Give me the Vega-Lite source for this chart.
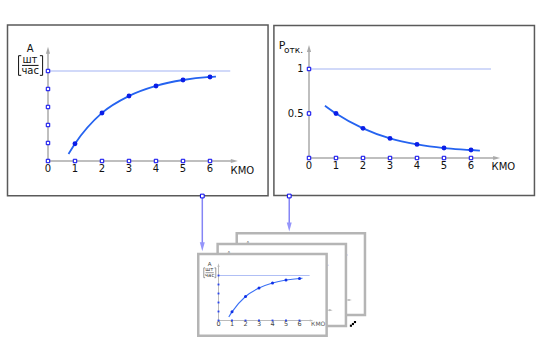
{
  "$schema": "https://vega.github.io/schema/vega-lite/v6.json",
  "padding": 0,
  "background": "white",
  "width": 550,
  "height": 355,
  "autosize": {"type": "fit", "contains": "padding"},
  "config": {"view": {"stroke": null}, "font": "DejaVu Sans", "text": {"font": "DejaVu Sans"}},
  "datasets": {
    "A": [{"x":1,"y":0.96},{"x":2,"y":2.67},{"x":3,"y":3.61},{"x":4,"y":4.17},{"x":5,"y":4.5},{"x":6,"y":4.67}],
    "Acurve": [{"x":0.76,"y":0.39},{"x":1,"y":0.96},{"x":2,"y":2.67},{"x":3,"y":3.61},{"x":4,"y":4.17},{"x":5,"y":4.5},{"x":6,"y":4.67},{"x":6.22,"y":4.69}],
    "P": [{"x":1,"y":0.5},{"x":2,"y":0.333},{"x":3,"y":0.22},{"x":4,"y":0.153},{"x":5,"y":0.112},{"x":6,"y":0.09}],
    "Pcurve": [{"x":0.59,"y":0.588},{"x":1,"y":0.5},{"x":2,"y":0.333},{"x":3,"y":0.22},{"x":4,"y":0.153},{"x":5,"y":0.112},{"x":6,"y":0.09},{"x":6.33,"y":0.082}],
    "Lbox": [{"x":-1.5,"y":7.55,"x2":8.15,"y2":-1.93}],
    "Laxes": [{"x":0,"y":0,"x2":0,"y2":6.15},{"x":0,"y":0,"x2":6.9,"y2":0}],
    "Lhline": [{"x":0,"y":5,"x2":6.75,"y2":5}],
    "LarrowUp": [{"x":0,"y":6.15}],
    "LarrowRight": [{"x":6.9,"y":0}],
    "Lticks": [{"x":0,"y":0},{"x":1,"y":0},{"x":2,"y":0},{"x":3,"y":0},{"x":4,"y":0},{"x":5,"y":0},{"x":6,"y":0},{"x":0,"y":1},{"x":0,"y":2},{"x":0,"y":3},{"x":0,"y":4},{"x":0,"y":5}],
    "Lxlabels": [{"x":0,"y":-0.45,"t":"0"},{"x":1,"y":-0.45,"t":"1"},{"x":2,"y":-0.45,"t":"2"},{"x":3,"y":-0.45,"t":"3"},{"x":4,"y":-0.45,"t":"4"},{"x":5,"y":-0.45,"t":"5"},{"x":6,"y":-0.45,"t":"6"}],
    "Lxtitle": [{"x":7.2,"y":-0.58,"t":"КМО"}],
    "Lytitle": [{"x":-0.66,"y":6.2,"t":"А"},{"x":-0.67,"y":5.63,"t":"шт"},{"x":-0.66,"y":5.0,"t":"час"}],
    "Lbrackets": [
      {"x":-0.96,"y":5.31,"x2":-0.35,"y2":5.31},
      {"x":-1.09,"y":5.85,"x2":-1.09,"y2":4.76},
      {"x":-1.09,"y":5.85,"x2":-0.99,"y2":5.85},
      {"x":-1.09,"y":4.76,"x2":-0.99,"y2":4.76},
      {"x":-0.2,"y":5.85,"x2":-0.2,"y2":4.76},
      {"x":-0.2,"y":5.85,"x2":-0.3,"y2":5.85},
      {"x":-0.2,"y":4.76,"x2":-0.3,"y2":4.76}
    ],
    "Rbox": [{"x":-1.3,"y":1.49,"x2":8.35,"y2":-0.42}],
    "Raxes": [{"x":0,"y":0,"x2":0,"y2":1.23},{"x":0,"y":0,"x2":6.95,"y2":0}],
    "Rhline": [{"x":0,"y":1,"x2":6.74,"y2":1}],
    "RarrowUp": [{"x":0,"y":1.23}],
    "RarrowRight": [{"x":6.95,"y":0}],
    "Rticks": [{"x":0,"y":0},{"x":1,"y":0},{"x":2,"y":0},{"x":3,"y":0},{"x":4,"y":0},{"x":5,"y":0},{"x":6,"y":0},{"x":0,"y":0.5},{"x":0,"y":1}],
    "Rxlabels": [{"x":0,"y":-0.087,"t":"0"},{"x":1,"y":-0.087,"t":"1"},{"x":2,"y":-0.087,"t":"2"},{"x":3,"y":-0.087,"t":"3"},{"x":4,"y":-0.087,"t":"4"},{"x":5,"y":-0.087,"t":"5"},{"x":6,"y":-0.087,"t":"6"}],
    "Rylabels": [{"x":-0.2,"y":1,"t":"1"},{"x":-0.2,"y":0.5,"t":"0.5"}],
    "Rxtitle": [{"x":7.2,"y":-0.098,"t":"КМО"}],
    "RtitleP": [{"x":-1.0,"y":1.26,"t":"Р"}],
    "RtitleSub": [{"x":-0.57,"y":1.213,"t":"отк."}],
    "cardBack": [{"x":1.35,"y":9.69,"x2":10.85,"y2":0.61}],
    "cardMid": [{"x":-0.065,"y":8.5,"x2":9.44,"y2":-0.61}],
    "cardFront": [{"x":-1.5,"y":7.39,"x2":8.01,"y2":-1.69}],
    "conn": [{"x":-1.2,"y":13.83,"x2":-1.2,"y2":8.5},{"x":5.24,"y":13.83,"x2":5.24,"y2":10.7}],
    "connHeads": [{"x":-1.2,"y":8.2},{"x":5.24,"y":10.39}],
    "connSquares": [{"x":-1.2,"y":13.83},{"x":5.24,"y":13.83}],
    "dots": [{"x":9.81,"y":-0.58},{"x":9.96,"y":-0.39},{"x":10.11,"y":-0.17}]
  },
  "resolve": {"scale": {"x": "independent", "y": "independent"}},
  "layer": [
    {
      "encoding": {
        "x": {"field":"x","type":"quantitative","scale":{"domain":[-1.77778,18.59259],"nice":false,"zero":false},"axis":null},
        "y": {"field":"y","type":"quantitative","scale":{"domain":[-10.77778,8.94444],"nice":false,"zero":false},"axis":null}
      },
      "layer": [
        {"data":{"name":"Lbox"},"mark":{"type":"rect","fill":"white","stroke":"#5a5a5a","strokeWidth":1.5},"encoding":{"x2":{"field":"x2"},"y2":{"field":"y2"}}},
        {"data":{"name":"Lhline"},"mark":{"type":"rule","color":"#a3b3f3","strokeWidth":1.2},"encoding":{"x2":{"field":"x2"},"y2":{"field":"y2"}}},
        {"data":{"name":"Laxes"},"mark":{"type":"rule","color":"#aaaaaa","strokeWidth":1.5},"encoding":{"x2":{"field":"x2"},"y2":{"field":"y2"}}},
        {"data":{"name":"LarrowUp"},"mark":{"type":"point","shape":"M0,-1L0.6,1L-0.6,1Z","filled":true,"color":"#aaaaaa","size":49,"opacity":1},"encoding":{}},
        {"data":{"name":"LarrowRight"},"mark":{"type":"point","shape":"M1,0L-1,0.6L-1,-0.6Z","filled":true,"color":"#aaaaaa","size":49,"opacity":1},"encoding":{}},
        {"data":{"name":"Acurve"},"mark":{"type":"line","interpolate":"monotone","color":"#2563f0","strokeWidth":1.8},"encoding":{}},
        {"data":{"name":"A"},"mark":{"type":"circle","color":"#0a1ee8","size":24,"opacity":1},"encoding":{}},
        {"data":{"name":"Lticks"},"mark":{"type":"square","fill":"white","stroke":"#0000ee","strokeWidth":1,"size":12,"opacity":1},"encoding":{}},
        {"data":{"name":"Lxlabels"},"mark":{"type":"text","fontSize":10,"color":"#111111"},"encoding":{"text":{"field":"t"}}},
        {"data":{"name":"Lxtitle"},"mark":{"type":"text","fontSize":10,"color":"#111111"},"encoding":{"text":{"field":"t"}}},
        {"data":{"name":"Lytitle"},"mark":{"type":"text","fontSize":10,"color":"#111111"},"encoding":{"text":{"field":"t"}}},
        {"data":{"name":"Lbrackets"},"mark":{"type":"rule","color":"#111111","strokeWidth":1},"encoding":{"x2":{"field":"x2"},"y2":{"field":"y2"}}}
      ]
    },
    {
      "encoding": {
        "x": {"field":"x","type":"quantitative","scale":{"domain":[-11.44444,8.92593],"nice":false,"zero":false},"axis":null},
        "y": {"field":"y","type":"quantitative","scale":{"domain":[-2.21348,1.77528],"nice":false,"zero":false},"axis":null}
      },
      "layer": [
        {"data":{"name":"Rbox"},"mark":{"type":"rect","fill":"white","stroke":"#5a5a5a","strokeWidth":1.5},"encoding":{"x2":{"field":"x2"},"y2":{"field":"y2"}}},
        {"data":{"name":"Rhline"},"mark":{"type":"rule","color":"#a3b3f3","strokeWidth":1.2},"encoding":{"x2":{"field":"x2"},"y2":{"field":"y2"}}},
        {"data":{"name":"Raxes"},"mark":{"type":"rule","color":"#aaaaaa","strokeWidth":1.5},"encoding":{"x2":{"field":"x2"},"y2":{"field":"y2"}}},
        {"data":{"name":"RarrowUp"},"mark":{"type":"point","shape":"M0,-1L0.6,1L-0.6,1Z","filled":true,"color":"#aaaaaa","size":49,"opacity":1},"encoding":{}},
        {"data":{"name":"RarrowRight"},"mark":{"type":"point","shape":"M1,0L-1,0.6L-1,-0.6Z","filled":true,"color":"#aaaaaa","size":49,"opacity":1},"encoding":{}},
        {"data":{"name":"Pcurve"},"mark":{"type":"line","interpolate":"monotone","color":"#2563f0","strokeWidth":1.8},"encoding":{}},
        {"data":{"name":"P"},"mark":{"type":"circle","color":"#0a1ee8","size":24,"opacity":1},"encoding":{}},
        {"data":{"name":"Rticks"},"mark":{"type":"square","fill":"white","stroke":"#0000ee","strokeWidth":1,"size":12,"opacity":1},"encoding":{}},
        {"data":{"name":"Rxlabels"},"mark":{"type":"text","fontSize":10,"color":"#111111"},"encoding":{"text":{"field":"t"}}},
        {"data":{"name":"Rylabels"},"mark":{"type":"text","fontSize":10,"color":"#111111","align":"right"},"encoding":{"text":{"field":"t"}}},
        {"data":{"name":"Rxtitle"},"mark":{"type":"text","fontSize":10,"color":"#111111"},"encoding":{"text":{"field":"t"}}},
        {"data":{"name":"RtitleP"},"mark":{"type":"text","fontSize":11,"color":"#111111"},"encoding":{"text":{"field":"t"}}},
        {"data":{"name":"RtitleSub"},"mark":{"type":"text","fontSize":9,"color":"#111111"},"encoding":{"text":{"field":"t"}}}
      ]
    },
    {
      "encoding": {
        "x": {"field":"x","type":"quantitative","scale":{"domain":[-16.18519,24.55556],"nice":false,"zero":false},"axis":null},
        "y": {"field":"y","type":"quantitative","scale":{"domain":[-3.83333,35.61111],"nice":false,"zero":false},"axis":null}
      },
      "layer": [
        {"data":{"name":"conn"},"mark":{"type":"rule","color":"#8585f5","strokeWidth":1.5},"encoding":{"x2":{"field":"x2"},"y2":{"field":"y2"}}},
        {"data":{"name":"connHeads"},"mark":{"type":"point","shape":"M0,1L0.55,-1L-0.55,-1Z","filled":true,"color":"#9595fb","size":81,"opacity":1},"encoding":{}},
        {"data":{"name":"connSquares"},"mark":{"type":"square","fill":"white","stroke":"#0000ee","strokeWidth":1,"size":14,"opacity":1},"encoding":{}},

        {"data":{"name":"cardBack"},"mark":{"type":"rect","fill":"white","stroke":"#b5b5b5","strokeWidth":2.5},"encoding":{"x2":{"field":"x2"},"y2":{"field":"y2"}}},
        {"data":{"name":"Lhline"},"mark":{"type":"rule","color":"#c5cdf5","strokeWidth":1,"xOffset":38.4,"x2Offset":38.4,"yOffset":-20.5,"y2Offset":-20.5},"encoding":{"x2":{"field":"x2"},"y2":{"field":"y2"}}},
        {"data":{"name":"Laxes"},"mark":{"type":"rule","color":"#bbbbbb","strokeWidth":1,"xOffset":38.4,"x2Offset":38.4,"yOffset":-20.5,"y2Offset":-20.5},"encoding":{"x2":{"field":"x2"},"y2":{"field":"y2"}}},
        {"data":{"name":"LarrowRight"},"mark":{"type":"point","shape":"M1,0L-1,0.6L-1,-0.6Z","filled":true,"color":"#bbbbbb","size":14,"opacity":1,"xOffset":38.4,"yOffset":-20.5},"encoding":{}},
        {"data":{"name":"LarrowUp"},"mark":{"type":"point","shape":"M0,-1L0.6,1L-0.6,1Z","filled":true,"color":"#bbbbbb","size":14,"opacity":1,"xOffset":38.4,"yOffset":-20.5},"encoding":{}},
        {"data":{"name":"Lytitle"},"mark":{"type":"text","fontSize":5.5,"color":"#777777","dx":38.4,"dy":-22},"encoding":{"text":{"field":"t"}}},

        {"data":{"name":"cardMid"},"mark":{"type":"rect","fill":"white","stroke":"#b5b5b5","strokeWidth":2.5},"encoding":{"x2":{"field":"x2"},"y2":{"field":"y2"}}},
        {"data":{"name":"Lhline"},"mark":{"type":"rule","color":"#c5cdf5","strokeWidth":1,"xOffset":19.2,"x2Offset":19.2,"yOffset":-10.3,"y2Offset":-10.3},"encoding":{"x2":{"field":"x2"},"y2":{"field":"y2"}}},
        {"data":{"name":"Laxes"},"mark":{"type":"rule","color":"#bbbbbb","strokeWidth":1,"xOffset":19.2,"x2Offset":19.2,"yOffset":-10.3,"y2Offset":-10.3},"encoding":{"x2":{"field":"x2"},"y2":{"field":"y2"}}},
        {"data":{"name":"LarrowRight"},"mark":{"type":"point","shape":"M1,0L-1,0.6L-1,-0.6Z","filled":true,"color":"#bbbbbb","size":14,"opacity":1,"xOffset":19.2,"yOffset":-10.3},"encoding":{}},
        {"data":{"name":"LarrowUp"},"mark":{"type":"point","shape":"M0,-1L0.6,1L-0.6,1Z","filled":true,"color":"#bbbbbb","size":14,"opacity":1,"xOffset":19.2,"yOffset":-10.3},"encoding":{}},
        {"data":{"name":"Lytitle"},"mark":{"type":"text","fontSize":5.5,"color":"#777777","dx":19.2,"dy":-11.8},"encoding":{"text":{"field":"t"}}},

        {"data":{"name":"cardFront"},"mark":{"type":"rect","fill":"white","stroke":"#b5b5b5","strokeWidth":2.5},"encoding":{"x2":{"field":"x2"},"y2":{"field":"y2"}}},
        {"data":{"name":"Lhline"},"mark":{"type":"rule","color":"#b0bff5","strokeWidth":1},"encoding":{"x2":{"field":"x2"},"y2":{"field":"y2"}}},
        {"data":{"name":"Laxes"},"mark":{"type":"rule","color":"#bbbbbb","strokeWidth":1},"encoding":{"x2":{"field":"x2"},"y2":{"field":"y2"}}},
        {"data":{"name":"LarrowUp"},"mark":{"type":"point","shape":"M0,-1L0.6,1L-0.6,1Z","filled":true,"color":"#bbbbbb","size":14,"opacity":1},"encoding":{}},
        {"data":{"name":"LarrowRight"},"mark":{"type":"point","shape":"M1,0L-1,0.6L-1,-0.6Z","filled":true,"color":"#bbbbbb","size":14,"opacity":1},"encoding":{}},
        {"data":{"name":"Acurve"},"mark":{"type":"line","interpolate":"monotone","color":"#3a70f5","strokeWidth":1.1},"encoding":{}},
        {"data":{"name":"A"},"mark":{"type":"circle","color":"#1030e8","size":9,"opacity":1},"encoding":{}},
        {"data":{"name":"Lticks"},"mark":{"type":"square","color":"#2a45f0","size":3.5,"opacity":1},"encoding":{}},
        {"data":{"name":"Lxlabels"},"mark":{"type":"text","fontSize":6.5,"color":"#444444","dy":-0.5},"encoding":{"text":{"field":"t"}}},
        {"data":{"name":"Lxtitle"},"mark":{"type":"text","fontSize":6,"color":"#555555","dx":2.5,"dy":-1.5},"encoding":{"text":{"field":"t"}}},
        {"data":{"name":"Lytitle"},"mark":{"type":"text","fontSize":5.5,"color":"#444444","dy":-1},"encoding":{"text":{"field":"t"}}},
        {"data":{"name":"Lbrackets"},"mark":{"type":"rule","color":"#555555","strokeWidth":0.6},"encoding":{"x2":{"field":"x2"},"y2":{"field":"y2"}}},

        {"data":{"name":"dots"},"mark":{"type":"square","color":"#000000","size":4.5,"opacity":1},"encoding":{}}
      ]
    }
  ]
}
